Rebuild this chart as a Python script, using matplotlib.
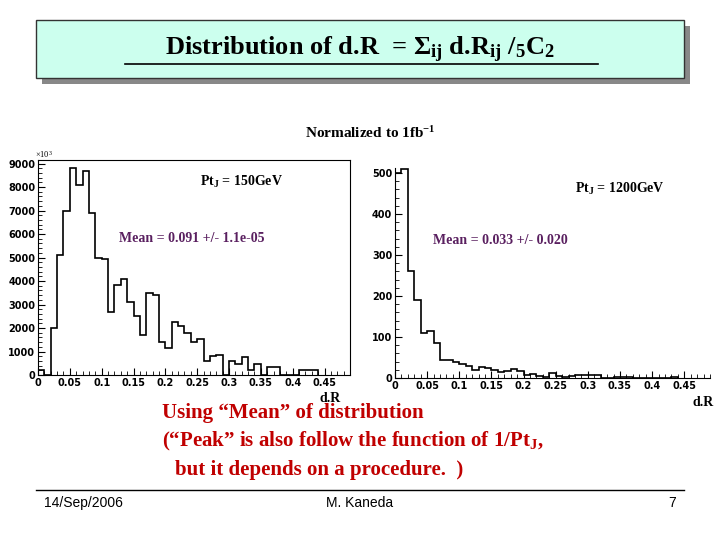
import matplotlib.pyplot as plt
from matplotlib.patches import Rectangle
import numpy as np

plt.rcParams['mathtext.fontset'] = 'custom'
plt.rcParams['mathtext.rm'] = 'Liberation Serif'
plt.rcParams['mathtext.bf'] = 'Liberation Serif:bold'
plt.rcParams['mathtext.it'] = 'Liberation Serif:italic'

# histogram contents (bin width 0.01, starting at 0)
bin_width = 0.01
counts_l = [200, 0, 2000, 5100, 7000, 8800, 8100, 8700, 6900, 5000, 4950, 2700,
            3850, 4100, 3100, 2500, 1700, 3500, 3400, 1400, 1150, 2250, 2100, 1800,
            1400, 1550, 600, 800, 850, 0, 600, 450, 750, 200, 450, 0, 350, 350,
            0, 0, 0, 200, 200, 200]
counts_r = [500, 510, 260, 190, 110, 115, 85, 45, 45, 40, 35, 30, 20, 28, 25, 20,
            15, 18, 22, 18, 8, 10, 5, 3, 12, 5, 3, 5, 7, 7, 7, 7, 0, 0, 2, 3,
            3, 0, 0, 0, 0, 0, 0, 2]

fig = plt.figure(figsize=(7.2, 5.4), dpi=100)
fig.patch.set_facecolor('white')

# title box with shadow
fig.add_artist(Rectangle((42/720, 1-84/540), 648/720, 58/540, transform=fig.transFigure,
                         facecolor='#888888', edgecolor='none'))
fig.add_artist(Rectangle((36/720, 1-78/540), 648/720, 58/540, transform=fig.transFigure,
                         facecolor='#ccffee', edgecolor='#333333', lw=1))
fig.text(0.5, 1-50/540, r'Distribution of d.R  = $\mathbf{\Sigma_{ij}}$ d.R$_{\mathbf{ij}}$ /$_{\mathbf{5}}$C$_{\mathbf{2}}$',
         ha='center', va='center', fontsize=19, fontweight='bold', family='Liberation Serif')
fig.add_artist(plt.Line2D([125/720, 598/720], [1-64/540, 1-64/540], color='black', lw=1.2))

fig.text(0.515, 1-133/540, r'Normalized to 1fb$^{\mathbf{-1}}$', ha='center', va='center',
         fontsize=11, fontweight='bold', family='Liberation Serif')

def draw(ax, counts, ylim, yticks):
    x = np.arange(len(counts) + 1) * bin_width
    ax.stairs(counts, x, color='black', lw=1.2)
    ax.set_xlim(0, 0.49)
    ax.set_ylim(0, ylim)
    ax.set_xticks([0, 0.05, 0.1, 0.15, 0.2, 0.25, 0.3, 0.35, 0.4, 0.45])
    ax.set_xticklabels(['0', '0.05', '0.1', '0.15', '0.2', '0.25', '0.3', '0.35', '0.4', '0.45'])
    ax.set_yticks(yticks)
    ax.minorticks_on()
    ax.tick_params(labelsize=7, direction='in', length=5, pad=2)
    ax.tick_params(which='minor', direction='in', length=3)
    for lab in ax.get_xticklabels() + ax.get_yticklabels():
        lab.set_fontweight('bold')

ax1 = fig.add_axes([38/720, 1-375/540, 312/720, 215/540])
draw(ax1, counts_l, 9150, range(0, 9001, 1000))
ax1.text(-0.01, 1.0, r'$\times10^3$', transform=ax1.transAxes, fontsize=6, va='bottom')
ax1.text(0.52, 0.88, r'Pt$_\mathbf{J}$ = 150GeV', transform=ax1.transAxes, fontsize=10,
         fontweight='bold', family='Liberation Serif')
ax1.text(0.26, 0.62, 'Mean = 0.091 +/- 1.1e-05', transform=ax1.transAxes, fontsize=10,
         fontweight='bold', family='Liberation Serif', color='#5a2060')

ax2 = fig.add_axes([395/720, 1-378/540, 315/720, 210/540])
draw(ax2, counts_r, 512, range(0, 501, 100))
for s in ['top', 'right']:
    ax2.spines[s].set_visible(False)
ax2.text(0.57, 0.88, r'Pt$_\mathbf{J}$ = 1200GeV', transform=ax2.transAxes, fontsize=10,
         fontweight='bold', family='Liberation Serif')
ax2.text(0.12, 0.64, 'Mean = 0.033 +/- 0.020', transform=ax2.transAxes, fontsize=10,
         fontweight='bold', family='Liberation Serif', color='#5a2060')

fig.text(330/720, 1-398/540, 'd.R', ha='center', va='center', fontsize=10,
         fontweight='bold', family='Liberation Serif')
fig.text(703/720, 1-403/540, 'd.R', ha='center', va='center', fontsize=10,
         fontweight='bold', family='Liberation Serif')

red = '#c00000'
fig.text(162/720, 1-413/540, 'Using \u201cMean\u201d of distribution', fontsize=15,
         fontweight='bold', family='Liberation Serif', color=red, va='center')
fig.text(162/720, 1-441/540, '(\u201cPeak\u201d is also follow the function of 1/Pt$_\\mathbf{J}$,',
         fontsize=15, fontweight='bold', family='Liberation Serif', color=red, va='center')
fig.text(175/720, 1-470/540, 'but it depends on a procedure.  )', fontsize=15,
         fontweight='bold', family='Liberation Serif', color=red, va='center')

fig.add_artist(plt.Line2D([36/720, 684/720], [1-490/540, 1-490/540], color='black', lw=1))
fig.text(44/720, 1-503/540, '14/Sep/2006', fontsize=10, va='center', family='Liberation Sans')
fig.text(360/720, 1-503/540, 'M. Kaneda', fontsize=10, va='center', ha='center', family='Liberation Sans')
fig.text(672/720, 1-503/540, '7', fontsize=10, va='center', ha='center', family='Liberation Sans')

fig.savefig('out.png', dpi=100)
